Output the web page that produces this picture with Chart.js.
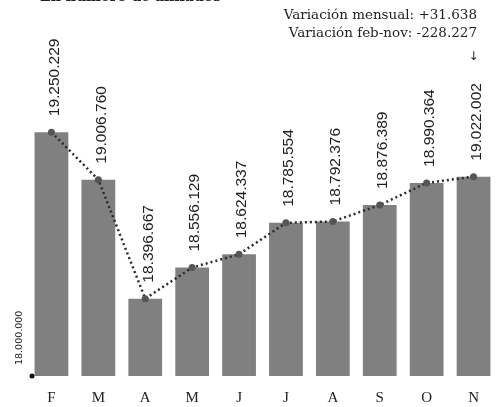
<!DOCTYPE html>
<html>
<head>
<meta charset="utf-8">
<script src="https://cdn.jsdelivr.net/npm/chart.js@4.4.1/dist/chart.umd.min.js"></script>
<style>
  html, body { margin: 0; padding: 0; background: #ffffff; }
  #wrap { position: relative; width: 501px; height: 407px; }
</style>
</head>
<body>
<div id="wrap"><canvas id="c" width="501" height="407"></canvas></div>
<script>
const months = ['F', 'M', 'A', 'M', 'J', 'J', 'A', 'S', 'O', 'N'];
const afiliados = [19250229, 19006760, 18396667, 18556129, 18624337, 18785554, 18792376, 18876389, 18990364, 19022002];
const valueLabels = ['19.250.229', '19.006.760', '18.396.667', '18.556.129', '18.624.337', '18.785.554', '18.792.376', '18.876.389', '18.990.364', '19.022.002'];
const axisMin = 18000000;
const axisMax = 19800000;
const axisMinLabel = '18.000.000';
const subtitle = 'En número de afiliados';
const headerLines = ['Variación mensual: +31.638', 'Variación feb-nov: -228.227'];

const decor = {
  id: 'decor',
  afterDatasetsDraw(chart) {
    const ctx = chart.ctx;
    const y = chart.scales.y;
    const area = chart.chartArea;
    const lineMeta = chart.getDatasetMeta(1);
    ctx.save();
    ctx.fillStyle = '#1e1e1e';
    ctx.font = '15.5px "Liberation Sans", Arial, sans-serif';
    ctx.textAlign = 'left';
    ctx.textBaseline = 'middle';
    lineMeta.data.forEach((pt, i) => {
      ctx.save();
      ctx.translate(pt.x + 3, pt.y - 16);
      ctx.rotate(-Math.PI / 2);
      ctx.fillText(valueLabels[i], 0, 0);
      ctx.restore();
    });
    const last = lineMeta.data[lineMeta.data.length - 1];
    ctx.font = '12px "DejaVu Sans", sans-serif';
    ctx.textAlign = 'center';
    ctx.fillText('↓', last.x, 57);
    const by = y.getPixelForValue(axisMin);
    ctx.save();
    ctx.translate(20, by - 11);
    ctx.rotate(-Math.PI / 2);
    ctx.font = '9.5px "DejaVu Sans", sans-serif';
    ctx.textAlign = 'left';
    ctx.textBaseline = 'middle';
    ctx.fillStyle = '#222';
    ctx.fillText(axisMinLabel, 0, 0);
    ctx.restore();
    ctx.beginPath();
    ctx.arc(area.left + 4, by, 2.5, 0, Math.PI * 2);
    ctx.fillStyle = '#111';
    ctx.fill();
    ctx.fillStyle = '#222';
    ctx.font = '13.5px "DejaVu Serif", serif';
    ctx.textAlign = 'right';
    ctx.textBaseline = 'middle';
    ctx.fillText(headerLines[0], 477, 15);
    ctx.fillText(headerLines[1], 477, 33);
    ctx.font = 'bold 14px "DejaVu Serif", serif';
    ctx.textAlign = 'left';
    ctx.textBaseline = 'alphabetic';
    ctx.fillText(subtitle, 40, 1);
    ctx.restore();
  }
};

new Chart(document.getElementById('c'), {
  data: {
    labels: months,
    datasets: [
      {
        type: 'bar',
        data: afiliados,
        backgroundColor: '#808080',
        borderWidth: 0,
        categoryPercentage: 1,
        barPercentage: 0.72,
        order: 2
      },
      {
        type: 'line',
        data: afiliados,
        borderColor: '#2a2a2a',
        borderWidth: 2.5,
        borderDash: [2, 3],
        pointRadius: 3.5,
        pointBackgroundColor: '#555555',
        pointBorderWidth: 0,
        tension: 0,
        fill: false,
        order: 1
      }
    ]
  },
  options: {
    responsive: false,
    animation: false,
    devicePixelRatio: 1,
    layout: { padding: { left: 28, right: 0, top: 25, bottom: -13 } },
    plugins: { legend: { display: false }, tooltip: { enabled: false } },
    scales: {
      x: {
        offset: true,
        grid: { display: false, drawTicks: false },
        border: { display: false },
        ticks: {
          color: '#222',
          padding: 13,
          font: { family: '"Liberation Serif", serif', size: 15 }
        }
      },
      y: {
        display: false,
        min: axisMin,
        max: axisMax
      }
    }
  },
  plugins: [decor]
});
</script>
</body>
</html>
